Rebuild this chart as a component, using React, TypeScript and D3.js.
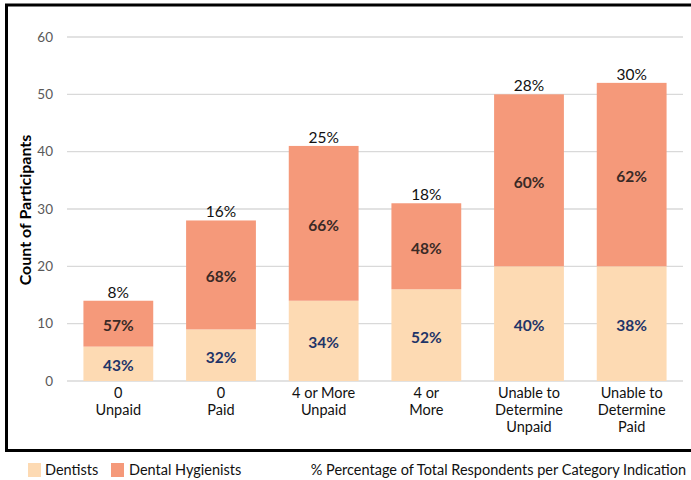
import React from "react";
import * as d3 from "d3";

const categories: string[][] = [
  ["0", "Unpaid"],
  ["0", "Paid"],
  ["4 or More", "Unpaid"],
  ["4 or", "More"],
  ["Unable to", "Determine", "Unpaid"],
  ["Unable to", "Determine", "Paid"],
];
const dentists = [6, 9, 14, 16, 20, 20];
const hygienists = [8, 19, 27, 15, 30, 32];
const dentistPct = ["43%", "32%", "34%", "52%", "40%", "38%"];
const hygienistPct = ["57%", "68%", "66%", "48%", "60%", "62%"];
const totalPct = ["8%", "16%", "25%", "18%", "28%", "30%"];
const yTicks = [0, 10, 20, 30, 40, 50, 60];

const W = 691;
const H = 480;
const FONT = "Lato, 'Open Sans', sans-serif";
const C_DENT = "#FDDAB3";
const C_HYG = "#F5997A";

export default function App() {
  const x = d3
    .scaleBand<number>()
    .domain(d3.range(categories.length))
    .range([67, 683])
    .paddingInner(0.32)
    .paddingOuter(0.16);
  const y = d3.scaleLinear().domain([0, 60]).range([381, 37]);

  return (
    <svg
      width={W}
      height={H}
      style={{ position: "absolute", left: 0, top: 0, background: "#fff" }}
      fontFamily={FONT}
    >
      <rect x={6.5} y={5} width={700} height={445.5} fill="none" stroke="#000" strokeWidth={3} />

      {yTicks.map((t) => (
        <g key={t}>
          <line x1={67} x2={683} y1={y(t)} y2={y(t)} stroke="#D9D9D9" strokeWidth={1.3} />
          <text x={53} y={y(t)} dy="0.35em" textAnchor="end" fontSize={13.5} fill="#595959">
            {t}
          </text>
        </g>
      ))}

      <text
        transform={`translate(31,${210}) rotate(-90)`}
        textAnchor="middle"
        fontSize={16}
        fontWeight="bold"
        fill="#000"
      >
        Count of Participants
      </text>

      {categories.map((lines, i) => {
        const bx = x(i)!;
        const bw = x.bandwidth();
        const cx = bx + bw / 2;
        const d = dentists[i];
        const h = hygienists[i];
        return (
          <g key={i}>
            <rect x={bx} y={y(d)} width={bw} height={y(0) - y(d)} fill={C_DENT} />
            <rect x={bx} y={y(d + h)} width={bw} height={y(d) - y(d + h)} fill={C_HYG} />
            <text
              x={cx}
              y={(y(0) + y(d)) / 2 + 2}
              dy="0.35em"
              textAnchor="middle"
              fontSize={15.5}
              fontWeight="bold"
              fill="#1F3468"
            >
              {dentistPct[i]}
            </text>
            <text
              x={cx}
              y={(y(d) + y(d + h)) / 2 + 2}
              dy="0.35em"
              textAnchor="middle"
              fontSize={15.5}
              fontWeight="bold"
              fill="#3A2A26"
            >
              {hygienistPct[i]}
            </text>
            <text x={cx} y={y(d + h) - 3} textAnchor="middle" fontSize={15.5} fill="#111">
              {totalPct[i]}
            </text>
            {lines.map((ln, j) => (
              <text key={j} x={cx} y={398 + j * 17} textAnchor="middle" fontSize={14.5} fill="#111">
                {ln}
              </text>
            ))}
          </g>
        );
      })}

      <rect x={28} y={463} width={13} height={14} fill={C_DENT} />
      <text x={45} y={475} fontSize={14.5} fill="#111">
        Dentists
      </text>
      <rect x={111} y={463} width={13} height={14} fill={C_HYG} />
      <text x={129} y={475} fontSize={14.5} fill="#111">
        Dental Hygienists
      </text>
      <text x={686} y={475} textAnchor="end" fontSize={14.5} fill="#111">
        % Percentage of Total Respondents per Category Indication
      </text>
    </svg>
  );
}
